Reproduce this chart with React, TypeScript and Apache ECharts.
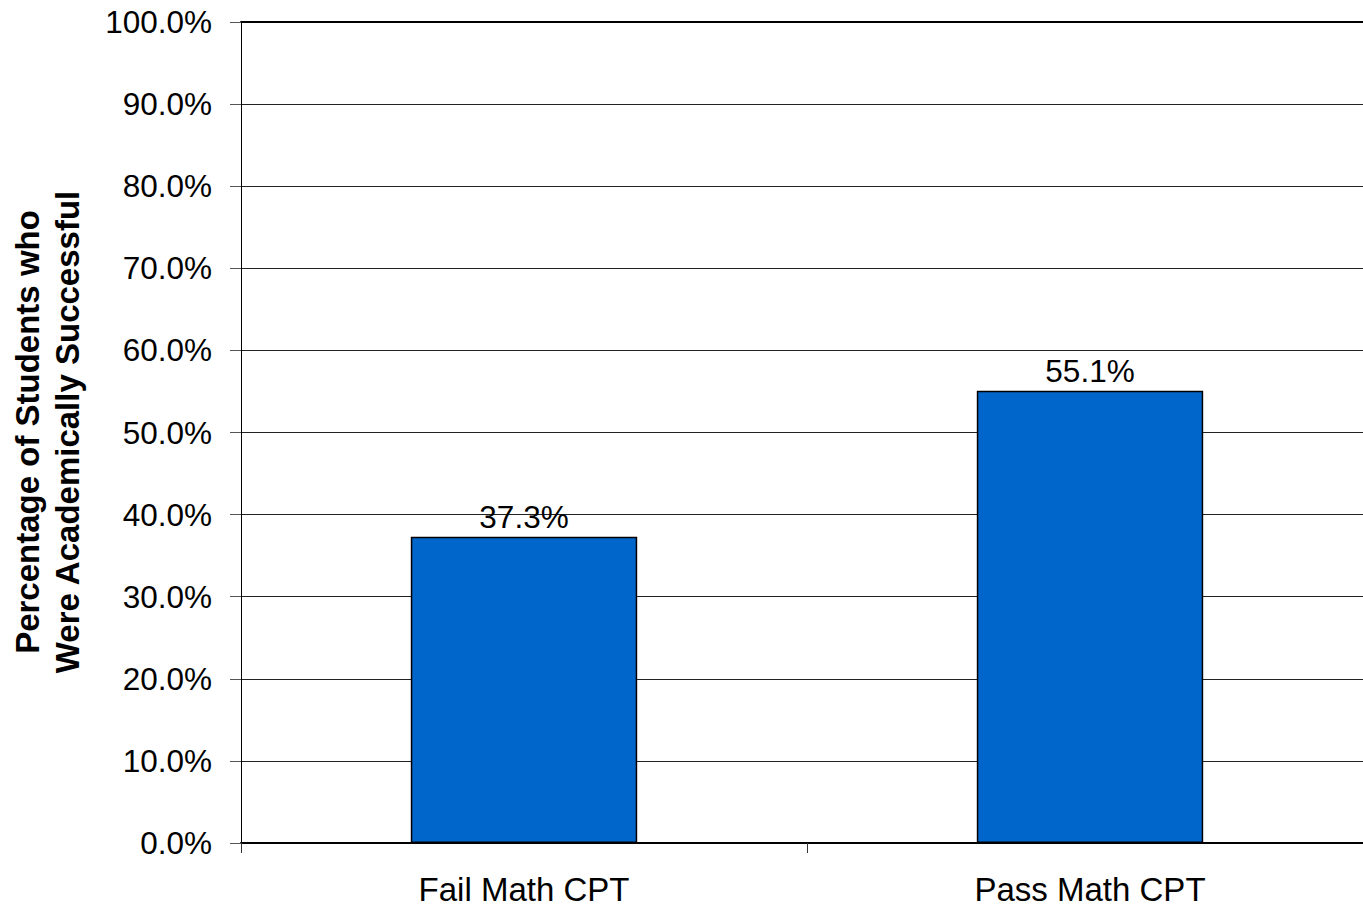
import React, { useEffect, useRef } from "react";
import * as echarts from "echarts";

const categories = ["Fail Math CPT", "Pass Math CPT"];
const successRates = [37.3, 55.1];
const yTicks = { min: 0, max: 100, interval: 10 };
const yAxisTitle = "Percentage of Students who\nWere Academically Successful";

const FONT = 'Arial, "Liberation Sans", sans-serif';

export default function App() {
  const ref = useRef<HTMLDivElement>(null);

  useEffect(() => {
    document.body.style.margin = "0";
    document.body.style.overflow = "hidden";
    const chart = echarts.init(ref.current!, null, { renderer: "svg" });
    chart.setOption({
      animation: false,
      backgroundColor: "#ffffff",
      grid: { left: 241, right: 0, top: 22, bottom: 64, containLabel: false },
      xAxis: [
        {
          type: "category",
          data: categories,
          boundaryGap: true,
          axisLine: { show: true, lineStyle: { color: "#000", width: 2 } },
          axisTick: { show: true, length: 10, alignWithLabel: false, lineStyle: { color: "#333", width: 1 } },
          axisLabel: { color: "#000", fontSize: 33, fontFamily: FONT, margin: 30 },
          splitLine: { show: false },
        },
        {
          type: "category",
          data: categories,
          position: "top",
          axisLine: { show: true, lineStyle: { color: "#000", width: 2 } },
          axisTick: { show: false },
          axisLabel: { show: false },
          splitLine: { show: false },
        },
      ],
      yAxis: {
        type: "value",
        min: yTicks.min,
        max: yTicks.max,
        interval: yTicks.interval,
        axisLine: { show: true, lineStyle: { color: "#000", width: 1 } },
        axisTick: { show: true, length: 11, lineStyle: { color: "#555", width: 1 } },
        axisLabel: {
          color: "#000",
          fontSize: 31.5,
          fontFamily: FONT,
          margin: 29,
          formatter: (v: number) => v.toFixed(1) + "%",
        },
        splitLine: { show: true, lineStyle: { color: "#222", width: 1 } },
      },
      graphic: [
        {
          type: "text",
          x: 47,
          y: 432,
          rotation: Math.PI / 2,
          style: {
            text: yAxisTitle,
            font: `bold 33px ${FONT}`,
            fill: "#000",
            align: "center",
            verticalAlign: "middle",
            lineHeight: 40,
          },
        },
      ],
      series: [
        {
          type: "bar",
          data: successRates,
          barWidth: "40%",
          itemStyle: { color: "#0066CC", borderColor: "#000", borderWidth: 1.5 },
          label: {
            show: true,
            position: "top",
            distance: 4,
            color: "#000",
            fontSize: 31.5,
            fontFamily: FONT,
            formatter: (p: any) => p.value.toFixed(1) + "%",
          },
        },
      ],
    });
    return () => chart.dispose();
  }, []);

  return <div ref={ref} style={{ width: 1373, height: 907 }} />;
}
